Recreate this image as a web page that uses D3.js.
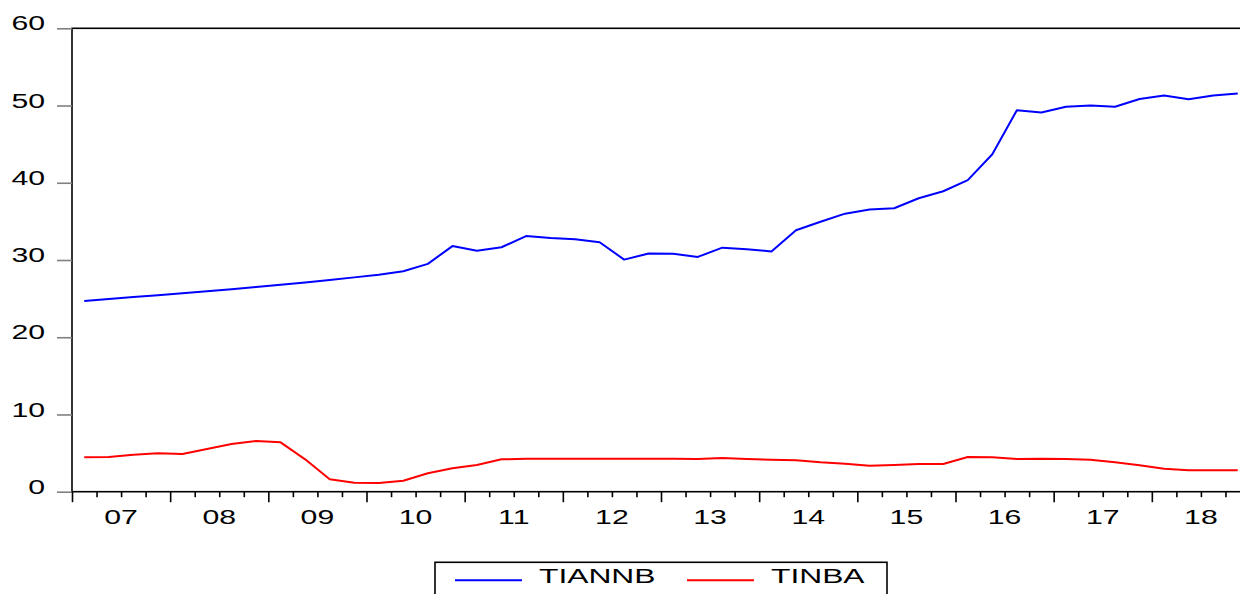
<!DOCTYPE html>
<html>
<head>
<meta charset="utf-8">
<script src="https://cdn.jsdelivr.net/npm/d3@7"></script>
<style>
  html, body { margin: 0; padding: 0; background: #fff; }
  svg { display: block; font-family: "Liberation Sans", Arial, sans-serif; }
</style>
</head>
<body>
<div id="chart"></div>
<script>
// quarterly data, 2007Q1 .. 2018Q4
const years = ["07", "08", "09", "10", "11", "12", "13", "14", "15", "16", "17", "18"];
const yTicks = [0, 10, 20, 30, 40, 50, 60];

const tiannb = [24.7, 24.95, 25.2, 25.45, 25.7, 25.95, 26.2, 26.5, 26.8, 27.1, 27.4, 27.75,
  28.1, 28.55, 29.5, 31.8, 31.2, 31.65, 33.1, 32.85, 32.7, 32.3, 30.05, 30.85,
  30.8, 30.4, 31.6, 31.4, 31.1, 33.85, 34.95, 36.0, 36.55, 36.7, 38.0, 38.9,
  40.35, 43.7, 49.4, 49.1, 49.85, 50.0, 49.85, 50.85, 51.3, 50.8, 51.3, 51.55];

const tinba = [4.45, 4.49, 4.79, 4.97, 4.88, 5.53, 6.18, 6.56, 6.39, 4.19, 1.60, 1.17,
  1.13, 1.42, 2.38, 3.03, 3.46, 4.19, 4.26, 4.26, 4.26, 4.26, 4.26, 4.26,
  4.26, 4.24, 4.36, 4.22, 4.15, 4.06, 3.80, 3.63, 3.37, 3.46, 3.59, 3.59,
  4.49, 4.45, 4.23, 4.28, 4.23, 4.15, 3.80, 3.41, 2.98, 2.77, 2.77, 2.77];

const series = [
  { name: "TIANNB", values: tiannb, color: "#0000ff" },
  { name: "TINBA", values: tinba, color: "#ff0000" }
];

const W = 1240, H = 594;
const stretch = 1.55;   // text in the original is drawn wide

const svg = d3.select("#chart").append("svg")
  .attr("width", W)
  .attr("height", H);

const x = d3.scaleLinear().domain([-0.5, tinba.length - 0.5]).range([72, 1250]);
const y = d3.scaleLinear().domain([0, 60]).range([491.7, 28.3]);

// frame (right side falls outside the picture)
svg.append("rect")
  .attr("x", x(-0.5)).attr("y", y(60))
  .attr("width", x(tinba.length - 0.5) - x(-0.5))
  .attr("height", y(0) - y(60))
  .attr("fill", "none")
  .attr("stroke", "#000")
  .attr("stroke-width", 1.6);

// y axis: grey ticks outside, wide labels
const yAxis = svg.append("g")
  .attr("transform", `translate(${x(-0.5)},0)`)
  .call(d3.axisLeft(y).tickValues(yTicks).tickSize(15).tickPadding(12));
yAxis.select(".domain").remove();
yAxis.selectAll(".tick line").attr("stroke", "#808080").attr("stroke-width", 1.6);
yAxis.selectAll(".tick text")
  .attr("font-size", 19.5)
  .attr("fill", "#000")
  .attr("dy", null)
  .attr("y", 1.6)
  .attr("x", -27 / stretch)
  .attr("transform", `scale(${stretch},1)`);

// x axis: tick at every quarter boundary, longer ones at year boundaries
const bounds = d3.range(-0.5, tinba.length, 1);
const xAxis = svg.append("g")
  .attr("transform", `translate(0,${y(0)})`)
  .call(d3.axisBottom(x).tickValues(bounds).tickSize(10).tickFormat(""));
xAxis.select(".domain").remove();
xAxis.selectAll(".tick line")
  .attr("stroke", "#000")
  .attr("stroke-width", 1.6)
  .attr("y2", d => ((d + 0.5) % 4 === 0 ? 10.5 : 5.5));

// year labels centred under each year's quarters
const yearPos = years.map((yr, i) => i * 4 + 1.5);
const xLab = svg.append("g")
  .attr("transform", `translate(0,${y(0)})`)
  .call(d3.axisBottom(x).tickValues(yearPos).tickSize(0)
    .tickFormat((d, i) => years[i]));
xLab.select(".domain").remove();
xLab.selectAll(".tick text")
  .attr("font-size", 19.5)
  .attr("fill", "#000")
  .attr("dy", null)
  .attr("y", 32.3)
  .attr("transform", `scale(${stretch},1)`)
  .attr("x", function() {
    // undo the horizontal scaling on the tick's own offset
    return 0;
  });
xLab.selectAll(".tick")
  .attr("transform", d => `translate(${x(d)},0)`);

// series lines
const line = d3.line()
  .x((d, i) => x(i))
  .y(d => y(d));

svg.append("g")
  .selectAll("path")
  .data(series)
  .join("path")
  .attr("d", d => line(d.values))
  .attr("fill", "none")
  .attr("stroke", d => d.color)
  .attr("stroke-width", 2)
  .attr("stroke-linejoin", "round");

// legend
const legend = svg.append("g");
legend.append("rect")
  .attr("x", 435).attr("y", 562.3)
  .attr("width", 452).attr("height", 50)
  .attr("fill", "#fff")
  .attr("stroke", "#000")
  .attr("stroke-width", 1.6);

const legX = [455, 687];
const item = legend.selectAll("g.item")
  .data(series)
  .join("g")
  .attr("class", "item")
  .attr("transform", (d, i) => `translate(${legX[i]},0)`);
item.append("line")
  .attr("x1", 0).attr("x2", 67)
  .attr("y1", 580.3).attr("y2", 580.3)
  .attr("stroke", d => d.color)
  .attr("stroke-width", 2);
item.append("text")
  .attr("transform", `translate(84,583.3) scale(${stretch},1)`)
  .attr("font-size", 20.5)
  .attr("fill", "#000")
  .text(d => d.name);
</script>
</body>
</html>
